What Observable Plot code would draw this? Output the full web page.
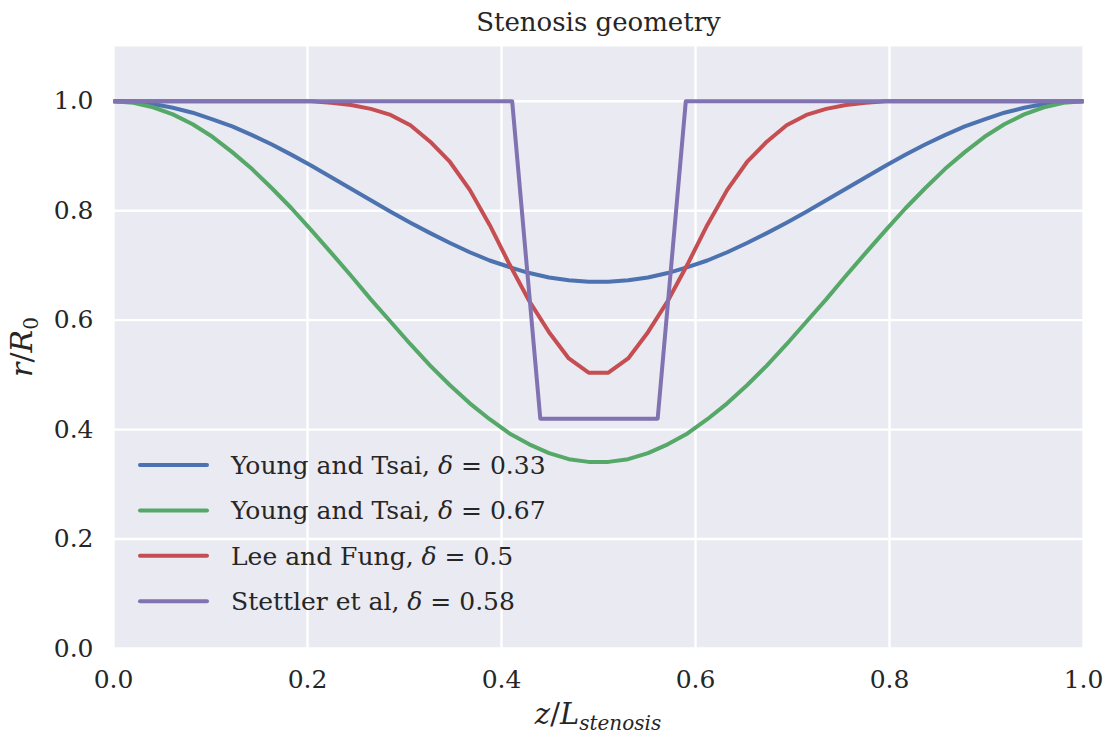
<!DOCTYPE html>
<html>
<head>
<meta charset="utf-8">
<script src="https://cdn.jsdelivr.net/npm/d3@7"></script>
<script src="https://cdn.jsdelivr.net/npm/@observablehq/plot@0.6"></script>
<style>
  html, body { margin: 0; padding: 0; background: white; }
  #chart { position: relative; width: 1108px; height: 736px; }
</style>
</head>
<body>
<div id="chart"></div>
<script>
// ---- data ----
const z = [0, 0.0204, 0.0408, 0.0612, 0.0816, 0.1020, 0.1224, 0.1429, 0.1633, 0.1837,
  0.2041, 0.2245, 0.2449, 0.2653, 0.2857, 0.3061, 0.3265, 0.3469, 0.3673, 0.3878,
  0.4082, 0.4286, 0.4490, 0.4694, 0.4898, 0.5102, 0.5306, 0.5510, 0.5714, 0.5918,
  0.6122, 0.6327, 0.6531, 0.6735, 0.6939, 0.7143, 0.7347, 0.7551, 0.7755, 0.7959,
  0.8163, 0.8367, 0.8571, 0.8776, 0.8980, 0.9184, 0.9388, 0.9592, 0.9796, 1.0];

const youngTsai033 = [1.000, 0.999, 0.995, 0.988, 0.979, 0.967, 0.954, 0.938, 0.921, 0.902,
  0.882, 0.861, 0.840, 0.819, 0.798, 0.778, 0.759, 0.741, 0.724, 0.709,
  0.697, 0.686, 0.678, 0.673, 0.670, 0.670, 0.673, 0.678, 0.686, 0.697,
  0.709, 0.724, 0.741, 0.759, 0.778, 0.798, 0.819, 0.840, 0.861, 0.882,
  0.902, 0.921, 0.938, 0.954, 0.967, 0.979, 0.988, 0.995, 0.999, 1.000];

const youngTsai067 = [1.000, 0.997, 0.989, 0.976, 0.958, 0.935, 0.907, 0.876, 0.841, 0.804,
  0.764, 0.723, 0.681, 0.638, 0.597, 0.556, 0.517, 0.481, 0.448, 0.419,
  0.393, 0.373, 0.357, 0.346, 0.341, 0.341, 0.346, 0.357, 0.373, 0.393,
  0.419, 0.448, 0.481, 0.517, 0.556, 0.597, 0.638, 0.681, 0.723, 0.764,
  0.804, 0.841, 0.876, 0.907, 0.935, 0.958, 0.976, 0.989, 0.997, 1.000];

const leeFung05 = [1.000, 1.000, 1.000, 1.000, 1.000, 1.000, 1.000, 1.000, 1.000, 1.000,
  1.000, 0.997, 0.993, 0.986, 0.975, 0.956, 0.926, 0.889, 0.838, 0.774,
  0.702, 0.635, 0.578, 0.530, 0.504, 0.504, 0.530, 0.578, 0.635, 0.702,
  0.774, 0.838, 0.889, 0.926, 0.956, 0.975, 0.986, 0.993, 0.997, 1.000,
  1.000, 1.000, 1.000, 1.000, 1.000, 1.000, 1.000, 1.000, 1.000, 1.000];

const stettlerZ = [0, 0.411, 0.440, 0.561, 0.590, 1.0];
const stettler058 = [1.0, 1.0, 0.42, 0.42, 1.0, 1.0];

const seriesNames = ["Young and Tsai", "Young and Tsai", "Lee and Fung", "Stettler et al"];
const seriesDeltas = ["0.33", "0.67", "0.5", "0.58"];
const seriesColors = ["#4C72B0", "#55A868", "#C44E52", "#8172B2"];

const xTicks = [0, 0.2, 0.4, 0.6, 0.8, 1.0];
const yTicks = [0, 0.2, 0.4, 0.6, 0.8, 1.0];
const titleText = "Stenosis geometry";

// ---- build tidy table ----
const rows = [];
[youngTsai033, youngTsai067, leeFung05].forEach((vals, s) => {
  vals.forEach((v, i) => rows.push({ z: z[i], r: v, s }));
});
stettler058.forEach((v, i) => rows.push({ z: stettlerZ[i], r: v, s: 3 }));

const FONT = "DejaVu Serif";
const fmt = d3.format(".1f");

const plot = Plot.plot({
  width: 1108,
  height: 736,
  marginLeft: 113,
  marginRight: 25,
  marginTop: 46,
  marginBottom: 88,
  style: { fontFamily: FONT, fontSize: "25px", color: "#262626", background: "white" },
  x: { domain: [0, 1] },
  y: { domain: [0, 1.1] },
  marks: [
    Plot.frame({ fill: "#EAEAF2", stroke: null }),
    Plot.gridX(xTicks, { stroke: "white", strokeWidth: 2.4, strokeOpacity: 1 }),
    Plot.gridY(yTicks, { stroke: "white", strokeWidth: 2.4, strokeOpacity: 1 }),
    Plot.axisX(xTicks, { tickSize: 0, tickPadding: 22, tickFormat: fmt, label: null, fontSize: 25 }),
    Plot.axisY(yTicks, { tickSize: 0, tickPadding: 20, tickFormat: fmt, label: null, fontSize: 25 }),
    ...[0, 1, 2, 3].map(s =>
      Plot.line(rows.filter(d => d.s === s), {
        x: "z", y: "r", stroke: seriesColors[s], strokeWidth: 4,
        strokeLinejoin: "round", strokeLinecap: "butt"
      })
    ),
    Plot.text([titleText], { frameAnchor: "top", dy: -24, fontSize: 26, fill: "#262626", lineAnchor: "middle" })
  ]
});

document.getElementById("chart").appendChild(plot);

// ---- axis labels with math-style sub/italics ----
const svg = d3.select(plot);

const yl = svg.append("text")
  .attr("transform", "translate(32,347) rotate(-90)")
  .attr("text-anchor", "middle")
  .attr("font-family", FONT)
  .attr("font-size", 30)
  .attr("fill", "#262626");
yl.append("tspan").attr("font-style", "italic").text("r");
yl.append("tspan").text("/");
yl.append("tspan").attr("font-style", "italic").text("R");
yl.append("tspan").attr("font-size", 20).attr("dy", 6).text("0");

const xl = svg.append("text")
  .attr("x", 598).attr("y", 724)
  .attr("text-anchor", "middle")
  .attr("font-family", FONT)
  .attr("font-size", 29)
  .attr("fill", "#262626");
xl.append("tspan").attr("font-style", "italic").text("z");
xl.append("tspan").text("/");
xl.append("tspan").attr("font-style", "italic").text("L");
xl.append("tspan").attr("font-style", "italic").attr("font-size", 20).attr("dy", 6).text("stenosis");

// ---- legend ----
const lg = svg.append("g").attr("font-family", FONT).attr("font-size", 25)
  .attr("fill", "#262626").attr("text-anchor", "start");
seriesNames.forEach((name, i) => {
  const y = 465 + i * 45.4;
  lg.append("line").attr("x1", 140).attr("x2", 207).attr("y1", y).attr("y2", y)
    .attr("stroke", seriesColors[i]).attr("stroke-width", 4).attr("stroke-linecap", "round");
  const t = lg.append("text").attr("x", 231).attr("y", y + 9).attr("text-anchor", "start");
  t.append("tspan").text(name + ", ");
  t.append("tspan").attr("font-style", "italic").text("δ");
  t.append("tspan").text(" = " + seriesDeltas[i]);
});
</script>
</body>
</html>
